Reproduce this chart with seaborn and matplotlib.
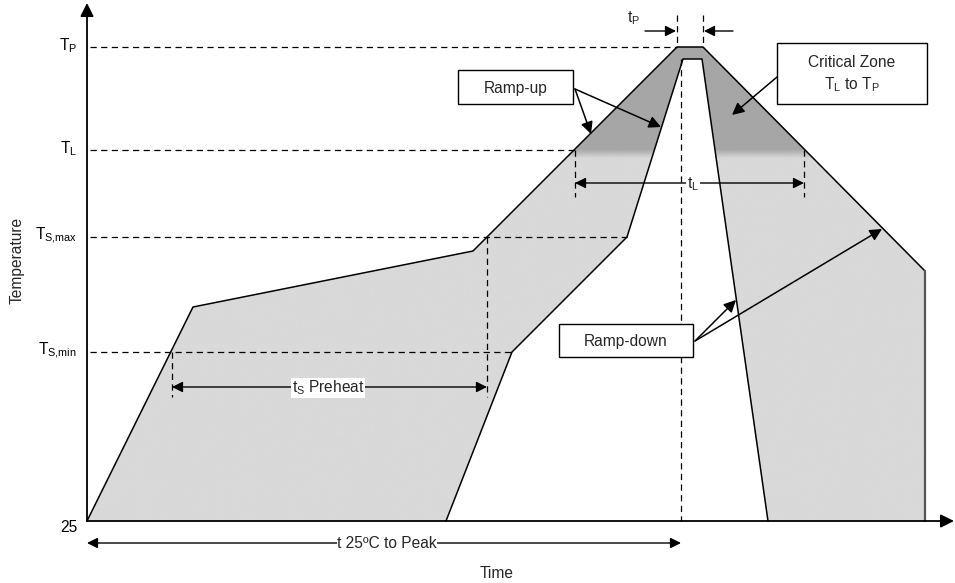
import numpy as np
import matplotlib
matplotlib.use("Agg")
import matplotlib.pyplot as plt
import seaborn as sns
import pandas as pd
from matplotlib.patches import Polygon, Rectangle, FancyArrowPatch
from matplotlib.colors import LinearSegmentedColormap
from matplotlib import font_manager as fm

# ---- diagram data (x = time, y = temperature; drawing units, y grows downward) ----
level_labels = [r"$\mathregular{T_{P}}$", r"$\mathregular{T_{L}}$",
                r"$\mathregular{T_{S{,}max}}$", r"$\mathregular{T_{S{,}min}}$", "25"]
level_y = [47, 150, 237, 352, 521]
level_end_x = [677, 575, 627, 512]

outer_x = [87, 193, 473, 677, 703, 925]
outer_y = [521, 307, 251, 47, 47, 271]
edge_x = [925, 925]
edge_y = [271, 521]
inner_x = [446, 512, 627, 683, 702, 768]
inner_y = [521, 352, 237, 59, 59, 521]

vmark_x = [677, 703, 575, 804, 487, 172, 681]
vmark_y0 = [15, 15, 150, 150, 237, 352, 59]
vmark_y1 = [47, 47, 197, 197, 397, 397, 521]

span_x0 = [575, 172, 87]
span_x1 = [804, 487, 681]
span_y = [183, 387, 543]
span_text = [r"$\mathregular{t_{L}}$", r"$\mathregular{t_{S}}$ Preheat", "t 25ºC to Peak"]
span_text_x = [693, 328, 387]

box_x0 = [458, 777, 559]
box_y0 = [70, 43, 324]
box_x1 = [573, 927, 693]
box_y1 = [104, 104, 357]
box_text = ["Ramp-up", "Critical Zone\n" + r"$\mathregular{T_{L}}$ to $\mathregular{T_{P}}$", "Ramp-down"]

call_x0 = [575, 575, 777, 695, 695]
call_y0 = [89, 89, 77, 341, 341]
call_x1 = [591, 661, 732, 736, 882]
call_y1 = [134, 127, 115, 300, 229]

FS = 11.2

# ---- style ----
sns.set_theme(style="white")
names = {f.name for f in fm.fontManager.ttflist}
main_font = "Liberation Sans" if "Liberation Sans" in names else "DejaVu Sans"
narrow_font = "Liberation Sans Narrow" if "Liberation Sans Narrow" in names else main_font
plt.rcParams["font.family"] = [main_font, "DejaVu Sans"]
plt.rcParams["mathtext.fontset"] = "custom"
plt.rcParams["mathtext.rm"] = main_font

fig = plt.figure(figsize=(9.55, 5.83), dpi=100)
ax = fig.add_axes([0, 0, 1, 1])

# ---- filled profile band with gradient ----
poly_pts = list(zip(outer_x + edge_x[1:], outer_y + edge_y[1:])) + list(zip(inner_x[::-1], inner_y[::-1]))
poly = Polygon(poly_pts, closed=True, facecolor="none", edgecolor="none")
ax.add_patch(poly)
yy = np.linspace(0, 583, 584)
vals = np.clip((yy - 149) / 9.0, 0, 1)
img = np.tile(vals[:, None], (1, 10))
cmap = LinearSegmentedColormap.from_list("crit", ["#a6a6a6", "#d9d9d9"])
im = ax.imshow(img, extent=[0, 955, 583, 0], cmap=cmap, vmin=0, vmax=1,
               aspect="auto", interpolation="bilinear", zorder=1)
im.set_clip_path(poly)

# ---- dashed guide lines ----
for y, xe in zip(level_y[:4], level_end_x):
    ax.plot([90, xe], [y, y], color="black", lw=0.9, ls=(0, (5, 3.5)), zorder=2)
for x, y0, y1 in zip(vmark_x, vmark_y0, vmark_y1):
    ax.plot([x, x], [y0, y1], color="black", lw=0.9, ls=(0, (5, 3.5)), zorder=2)

# ---- profile outlines ----
df_outer = pd.DataFrame({"t": outer_x, "T": outer_y})
df_inner = pd.DataFrame({"t": inner_x, "T": inner_y})
sns.lineplot(data=df_outer, x="t", y="T", sort=False, estimator=None, color="black", lw=1.1, ax=ax, zorder=3)
sns.lineplot(data=df_inner, x="t", y="T", sort=False, estimator=None, color="black", lw=1.1, ax=ax, zorder=3)
ax.plot(edge_x, edge_y, color="#555555", lw=1.6, zorder=3)
ax.set_xlim(0, 955)
ax.set_ylim(583, 0)
ax.axis("off")

# ---- axes with arrows ----
ax.add_patch(FancyArrowPatch((87, 521), (87, 3), arrowstyle="-|>", mutation_scale=20,
                             color="black", lw=1.3, shrinkA=0, shrinkB=0, zorder=4))
ax.add_patch(FancyArrowPatch((87, 521), (954, 521), arrowstyle="-|>", mutation_scale=20,
                             color="black", lw=1.3, shrinkA=0, shrinkB=0, zorder=4))

# ---- level labels ----
for lab, y in zip(level_labels, level_y):
    yy_ = y + 6 if lab == "25" else y - 1
    ax.text(77, yy_, lab, ha="right", va="center", fontsize=FS, color="black")

# ---- tP arrows ----
ax.add_patch(FancyArrowPatch((645, 31), (676, 31), arrowstyle="-|>", mutation_scale=16,
                             color="black", lw=1, shrinkA=0, shrinkB=0, zorder=4))
ax.add_patch(FancyArrowPatch((733, 31), (704, 31), arrowstyle="-|>", mutation_scale=16,
                             color="black", lw=1, shrinkA=0, shrinkB=0, zorder=4))
ax.text(634, 18, r"$\mathregular{t_{P}}$", ha="center", va="center", fontsize=FS)

# ---- span arrows ----
for x0, x1, y, t, tx in zip(span_x0, span_x1, span_y, span_text, span_text_x):
    ax.add_patch(FancyArrowPatch((x0, y), (x1, y), arrowstyle="<|-|>", mutation_scale=16,
                                 color="black", lw=1, shrinkA=0, shrinkB=0, zorder=4))
    fam = narrow_font if "Peak" in t else main_font
    ax.text(tx, y + 1, t, ha="center", va="center", fontsize=FS, family=[fam, "DejaVu Sans"], zorder=5,
            bbox=dict(facecolor="white", edgecolor="none", pad=0.5))

# ---- boxes ----
for x0, y0, x1, y1, t in zip(box_x0, box_y0, box_x1, box_y1, box_text):
    ax.add_patch(Rectangle((x0, y0), x1 - x0, y1 - y0, facecolor="white", edgecolor="black", lw=1, zorder=5))
    ax.text((x0 + x1) / 2, (y0 + y1) / 2 + 1, t, ha="center", va="center", fontsize=FS,
            linespacing=1.4, zorder=6)

# ---- callout arrows ----
for x0, y0, x1, y1 in zip(call_x0, call_y0, call_x1, call_y1):
    ax.add_patch(FancyArrowPatch((x0, y0), (x1, y1), arrowstyle="-|>", mutation_scale=18,
                                 color="black", lw=1.1, shrinkA=0, shrinkB=0, zorder=4))

# ---- axis titles ----
ax.text(497, 573, "Time", ha="center", va="center", fontsize=FS, family=[narrow_font, "DejaVu Sans"])
ax.text(17, 260, "Temperature", ha="center", va="center", rotation=90, fontsize=FS,
        family=[narrow_font, "DejaVu Sans"])

fig.savefig("out.png", dpi=100)
